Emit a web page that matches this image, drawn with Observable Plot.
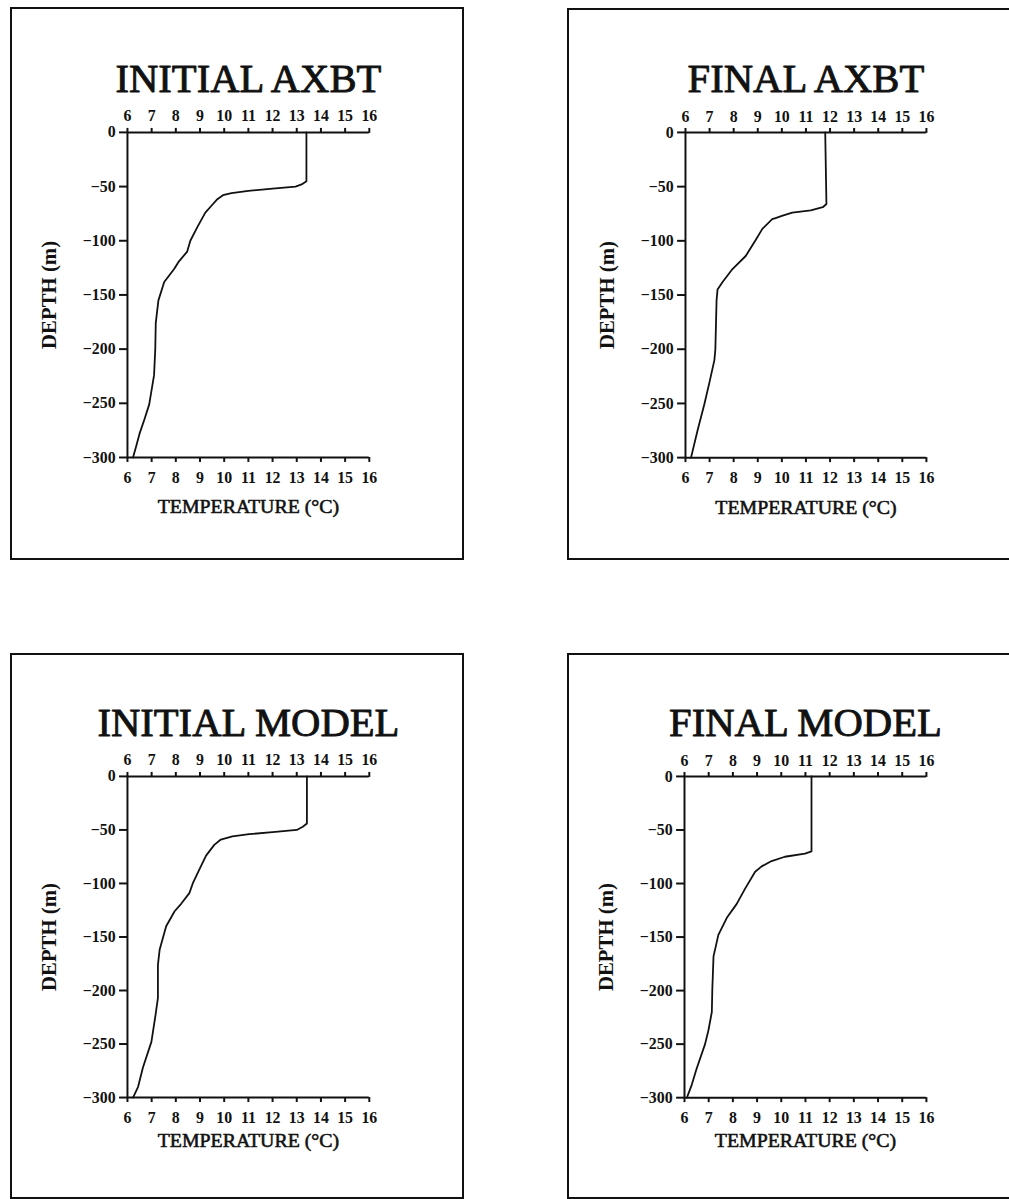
<!DOCTYPE html>
<html><head><meta charset="utf-8">
<script src="https://cdn.jsdelivr.net/npm/d3@7"></script>
<script src="https://cdn.jsdelivr.net/npm/@observablehq/plot@0.6"></script>
<style>
body{margin:0;background:#fff;}
#root{position:relative;width:1009px;height:1199px;overflow:hidden;background:#fff;}
.panel{position:absolute;box-sizing:border-box;border:2px solid #111;}
.panel svg{position:absolute;display:block;left:-2px;top:-2px;}
</style></head><body><div id="root"></div>
<script>
const titles = ["INITIAL AXBT", "FINAL AXBT", "INITIAL MODEL", "FINAL MODEL"];
const xTicks = [6, 7, 8, 9, 10, 11, 12, 13, 14, 15, 16];
const yTicks = [0, -50, -100, -150, -200, -250, -300];
const xLabel = "TEMPERATURE (°C)";
const yLabel = "DEPTH (m)";

const initialAxbtDepth = [0, -45, -48, -50, -52, -54, -56, -58, -62, -67, -74, -87, -100, -110, -119, -126, -138, -155, -176, -200, -224, -251, -265, -278, -289, -300];
const initialAxbtTemp  = [13.4, 13.4, 13.2, 12.95, 12.0, 11.0, 10.3, 9.95, 9.7, 9.5, 9.22, 8.9, 8.6, 8.47, 8.13, 7.93, 7.52, 7.28, 7.17, 7.15, 7.1, 6.9, 6.7, 6.5, 6.37, 6.23];

const finalAxbtDepth = [0, -66, -69, -72, -74, -77, -79, -80, -89, -99, -114, -126, -138, -145, -155, -200, -210, -231, -251, -275, -300];
const finalAxbtTemp  = [11.8, 11.85, 11.7, 11.2, 10.43, 10.0, 9.74, 9.6, 9.19, 8.92, 8.5, 7.95, 7.54, 7.33, 7.29, 7.24, 7.2, 6.99, 6.78, 6.5, 6.23];

const initialModelDepth = [0, -44, -47, -50, -52, -54, -56, -59, -64, -74, -87, -100, -109, -119, -126, -140, -162, -176, -200, -207, -223, -248, -272, -290, -300];
const initialModelTemp  = [13.42, 13.42, 13.25, 13.0, 12.0, 11.03, 10.34, 9.86, 9.59, 9.25, 8.97, 8.7, 8.56, 8.22, 7.95, 7.6, 7.33, 7.26, 7.26, 7.26, 7.16, 6.99, 6.64, 6.44, 6.23];

const finalModelDepth = [0, -70, -72, -75, -79, -84, -89, -105, -119, -132, -148, -168, -199, -220, -237, -250, -273, -288, -300];
const finalModelTemp  = [11.25, 11.25, 10.98, 10.15, 9.6, 9.19, 8.92, 8.5, 8.16, 7.75, 7.4, 7.2, 7.15, 7.13, 6.99, 6.85, 6.5, 6.3, 6.1];

const profiles = [
  [initialAxbtTemp, initialAxbtDepth],
  [finalAxbtTemp, finalAxbtDepth],
  [initialModelTemp, initialModelDepth],
  [finalModelTemp, finalModelDepth]
];

// layout (box position and plot-area position, in page pixels)
const layout = [
  {left: 10,  top: 7,   w: 454, h: 553, px: 128, py: 133, pw: 244, ph: 328, lab: 50},
  {left: 567, top: 8,   w: 470, h: 552, px: 686, py: 133, pw: 243, ph: 328, lab: 50},
  {left: 10,  top: 653, w: 454, h: 546, px: 128, py: 777, pw: 244, ph: 324, lab: 43},
  {left: 567, top: 653, w: 470, h: 546, px: 685, py: 777, pw: 244, ph: 324, lab: 43}
];

const root = document.getElementById("root");
const font = "'Liberation Serif', 'DejaVu Serif', serif";

layout.forEach((L, i) => {
  const [temps, depths] = profiles[i];
  const data = temps.map((t, k) => ({t, d: depths[k]}));
  const ml = L.px - L.left, mt = L.py - L.top;
  const chart = Plot.plot({
    width: L.w, height: L.h,
    marginLeft: ml, marginTop: mt,
    marginRight: L.w - ml - L.pw, marginBottom: L.h - mt - L.ph,
    x: {domain: [6, 16]},
    y: {domain: [-300, 0]},
    style: {fontFamily: font, fontSize: "16px", fontWeight: "bold", color: "#111", background: "transparent", overflow: "visible"},
    marks: [
      Plot.axisX(xTicks, {anchor: "top", tickSize: 5, tickPadding: 6, strokeWidth: 2, label: null, fontSize: 16}),
      Plot.axisX(xTicks, {anchor: "bottom", tickSize: 5, tickPadding: 9, strokeWidth: 2, label: null, fontSize: 16}),
      Plot.axisY(yTicks, {anchor: "left", tickSize: 8, tickPadding: 4, strokeWidth: 2, label: null, fontSize: 16}),
      Plot.ruleX([6], {y1: -300, y2: 0, strokeWidth: 2, stroke: "#111"}),
      Plot.ruleY([0, -300], {x1: 6, x2: 16, strokeWidth: 2, stroke: "#111"}),
      Plot.line(data, {x: "t", y: "d", stroke: "#111", strokeWidth: 1.8}),
      Plot.text([titles[i]], {frameAnchor: "top", dy: -41, lineAnchor: "bottom", fontSize: 41, fontWeight: "normal", fill: "#111", stroke: "#111", strokeWidth: 0.9}),
      Plot.text([xLabel], {frameAnchor: "bottom", dy: L.lab, lineAnchor: "middle", fontSize: 20, fontWeight: "normal", fill: "#111", stroke: "#111", strokeWidth: 0.6}),
      Plot.text([yLabel], {frameAnchor: "left", dx: -79, rotate: -90, textAnchor: "middle", lineAnchor: "middle", fontSize: 21, fontWeight: "bold", fill: "#111"})
    ]
  });
  const box = document.createElement("div");
  box.className = "panel";
  box.style.left = L.left + "px";
  box.style.top = L.top + "px";
  box.style.width = L.w + "px";
  box.style.height = L.h + "px";
  box.appendChild(chart);
  root.appendChild(box);
});
</script>
</body></html>
